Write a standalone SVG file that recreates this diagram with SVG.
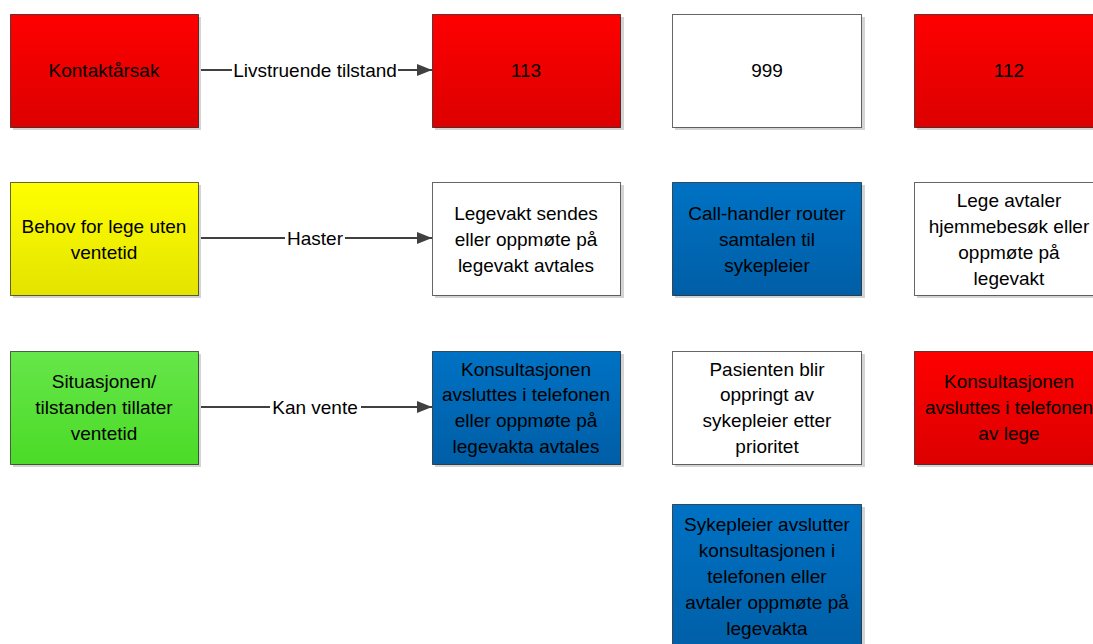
<svg xmlns="http://www.w3.org/2000/svg" width="1093" height="644" viewBox="0 0 1093 644">
  <defs>
    <linearGradient id="gRed" x1="0" y1="0" x2="0" y2="1">
      <stop offset="0" stop-color="#ff0000"/>
      <stop offset="1" stop-color="#dc0000"/>
    </linearGradient>
    <linearGradient id="gYellow" x1="0" y1="0" x2="0" y2="1">
      <stop offset="0" stop-color="#ffff00"/>
      <stop offset="1" stop-color="#e3e300"/>
    </linearGradient>
    <linearGradient id="gGreen" x1="0" y1="0" x2="0" y2="1">
      <stop offset="0" stop-color="#66e64a"/>
      <stop offset="1" stop-color="#4bdb27"/>
    </linearGradient>
    <linearGradient id="gBlue" x1="0" y1="0" x2="0" y2="1">
      <stop offset="0" stop-color="#0072c4"/>
      <stop offset="1" stop-color="#005ea6"/>
    </linearGradient>
    <marker id="arrow" viewBox="0 0 15 12" refX="15" refY="6" markerWidth="15" markerHeight="12" markerUnits="userSpaceOnUse" orient="auto">
      <path d="M0,0 L15,6 L0,12 Z" fill="#404040"/>
    </marker>
  </defs>
  <style>
    .shadow { fill: #d4d4d4; }
    .box { stroke: #000; stroke-opacity: 0.6; stroke-width: 1; }
    .white { fill: #ffffff; }
    .red { fill: url(#gRed); }
    .yellow { fill: url(#gYellow); }
    .green { fill: url(#gGreen); }
    .blue { fill: url(#gBlue); }
    text { font-family: "Liberation Sans", Arial, sans-serif; font-size: 19px; text-anchor: middle; fill: #000; }
    .edge { stroke: #404040; stroke-width: 2; fill: none; }
    .lblbg { fill: #ffffff; }
  </style>

  <rect width="1093" height="644" fill="#ffffff"/>

  <!-- connectors -->
  <g id="connectors">
    <line class="edge" x1="198" y1="70" x2="432" y2="70" marker-end="url(#arrow)"/>
    <rect class="lblbg" x="232" y="58" width="166" height="24"/>
    <text x="315" y="77">Livstruende tilstand</text>

    <line class="edge" x1="198" y1="238" x2="432" y2="238" marker-end="url(#arrow)"/>
    <rect class="lblbg" x="285" y="226" width="60" height="24"/>
    <text x="315" y="245">Haster</text>

    <line class="edge" x1="198" y1="407" x2="432" y2="407" marker-end="url(#arrow)"/>
    <rect class="lblbg" x="270" y="395" width="91" height="24"/>
    <text x="315" y="414">Kan vente</text>
  </g>

  <!-- column 1 -->
  <g id="kontaktarsak">
    <rect class="shadow" x="13" y="17" width="188" height="113"/>
    <rect class="box red" x="10.5" y="14.5" width="188" height="113"/>
    <text x="104" y="77">Kontaktårsak</text>
  </g>
  <g id="behov">
    <rect class="shadow" x="13" y="185" width="188" height="113"/>
    <rect class="box yellow" x="10.5" y="182.5" width="188" height="113"/>
    <text x="104" y="233">Behov for lege uten</text>
    <text x="104" y="259">ventetid</text>
  </g>
  <g id="situasjonen">
    <rect class="shadow" x="13" y="354" width="188" height="113"/>
    <rect class="box green" x="10.5" y="351.5" width="188" height="113"/>
    <text x="104" y="388">Situasjonen/</text>
    <text x="104" y="414">tilstanden tillater</text>
    <text x="104" y="440">ventetid</text>
  </g>

  <!-- column 2 -->
  <g id="n113">
    <rect class="shadow" x="435" y="17" width="189" height="113"/>
    <rect class="box red" x="432.5" y="14.5" width="188" height="113"/>
    <text x="526" y="77">113</text>
  </g>
  <g id="legevakt-sendes">
    <rect class="shadow" x="435" y="185" width="189" height="113"/>
    <rect class="box white" x="432.5" y="182.5" width="188" height="113"/>
    <text x="526" y="220">Legevakt sendes</text>
    <text x="526" y="246">eller oppmøte på</text>
    <text x="526" y="272">legevakt avtales</text>
  </g>
  <g id="konsultasjonen-1">
    <rect class="shadow" x="435" y="354" width="189" height="113"/>
    <rect class="box blue" x="432.5" y="351.5" width="188" height="113"/>
    <text x="526" y="376">Konsultasjonen</text>
    <text x="526" y="401">avsluttes i telefonen</text>
    <text x="526" y="427">eller oppmøte på</text>
    <text x="526" y="453">legevakta avtales</text>
  </g>

  <!-- column 3 -->
  <g id="n999">
    <rect class="shadow" x="675" y="17" width="190" height="113"/>
    <rect class="box white" x="672.5" y="14.5" width="189" height="113"/>
    <text x="767" y="77">999</text>
  </g>
  <g id="call-handler">
    <rect class="shadow" x="675" y="185" width="190" height="113"/>
    <rect class="box blue" x="672.5" y="182.5" width="189" height="113"/>
    <text x="767" y="220">Call-handler router</text>
    <text x="767" y="246">samtalen til</text>
    <text x="767" y="272">sykepleier</text>
  </g>
  <g id="pasienten">
    <rect class="shadow" x="675" y="354" width="190" height="113"/>
    <rect class="box white" x="672.5" y="351.5" width="189" height="113"/>
    <text x="767" y="376">Pasienten blir</text>
    <text x="767" y="401">oppringt av</text>
    <text x="767" y="427">sykepleier etter</text>
    <text x="767" y="453">prioritet</text>
  </g>
  <g id="sykepleier-avslutter">
    <rect class="shadow" x="675" y="507" width="190" height="150"/>
    <rect class="box blue" x="672.5" y="504.5" width="189" height="150"/>
    <text x="767" y="531">Sykepleier avslutter</text>
    <text x="767" y="557">konsultasjonen i</text>
    <text x="767" y="583">telefonen eller</text>
    <text x="767" y="609">avtaler oppmøte på</text>
    <text x="767" y="635">legevakta</text>
  </g>

  <!-- column 4 -->
  <g id="n112">
    <rect class="shadow" x="917" y="17" width="189" height="113"/>
    <rect class="box red" x="914.5" y="14.5" width="188" height="113"/>
    <text x="1009" y="77">112</text>
  </g>
  <g id="lege-avtaler">
    <rect class="shadow" x="917" y="185" width="189" height="113"/>
    <rect class="box white" x="914.5" y="182.5" width="188" height="113"/>
    <text x="1009" y="207">Lege avtaler</text>
    <text x="1009" y="233">hjemmebesøk eller</text>
    <text x="1009" y="259">oppmøte på</text>
    <text x="1009" y="285">legevakt</text>
  </g>
  <g id="konsultasjonen-2">
    <rect class="shadow" x="917" y="354" width="189" height="113"/>
    <rect class="box red" x="914.5" y="351.5" width="188" height="113"/>
    <text x="1009" y="388">Konsultasjonen</text>
    <text x="1009" y="414">avsluttes i telefonen</text>
    <text x="1009" y="440">av lege</text>
  </g>
</svg>
